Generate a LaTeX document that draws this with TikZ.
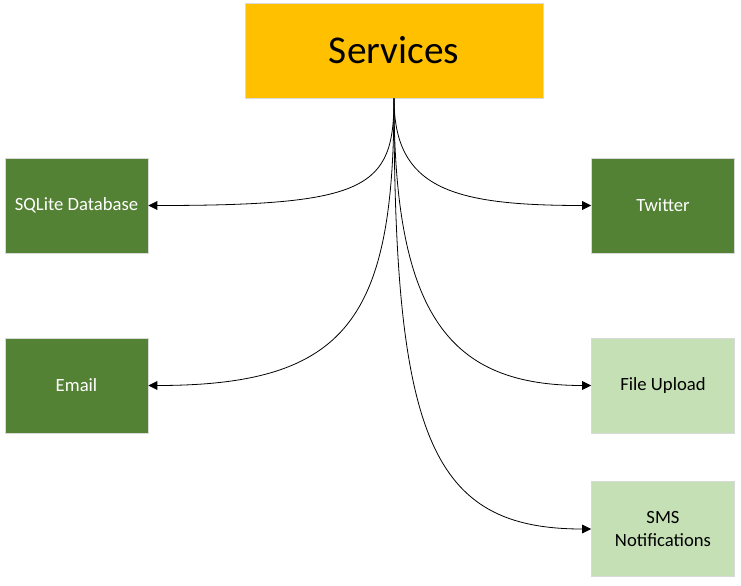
\documentclass[tikz,border=0pt]{standalone}
\usepackage{fontspec}
\setmainfont{Carlito}
\usetikzlibrary{arrows.meta}
\definecolor{svcyellow}{HTML}{FFC000}
\definecolor{darkleaf}{HTML}{548235}
\definecolor{lightleaf}{HTML}{C5E0B4}

\begin{document}
\begin{tikzpicture}[x=0.75pt,y=-0.75pt,
	box/.style={draw=gray!30,line width=0.4pt,minimum width=107.25pt,minimum height=71.25pt,inner sep=2pt,align=center,font=\fontsize{14}{17}\selectfont},
	darkbox/.style={box,fill=darkleaf,text=white},
	lightbox/.style={box,fill=lightleaf,text=black},
	link/.style={line width=0.6pt,-{Triangle[length=6.8pt,width=6.5pt]}}]
	\useasboundingbox (0,0) rectangle (741,585);

	\node[box,fill=svcyellow,minimum width=223.5pt,font=\fontsize{29.5}{35}\selectfont]	(services)	at (394,50.5)	{Services};
	\node[darkbox]		(sqlite)	at (76.5,205.5)		{SQLite Database};
	\node[darkbox]		(email)		at (76.5,385.5)		{Email};
	\node[darkbox]		(twitter)	at (663,205.5)		{Twitter};
	\node[lightbox]		(upload)	at (663,385.5)		{File Upload};
	\node[lightbox]		(sms)		at (663,529)		{SMS\\Notifications};

	\draw[link]	(services.south) .. controls +(0,90) and +(220,0) .. (sqlite.east);
	\draw[link]	(services.south) .. controls +(0,90) and +(-140,0) .. (twitter.west);
	\draw[link]	(services.south) .. controls +(0,220) and +(200,0) .. (email.east);
	\draw[link]	(services.south) .. controls +(0,220) and +(-140,0) .. (upload.west);
	\draw[link]	(services.south) .. controls +(0,340) and +(-160,0) .. (sms.west);
\end{tikzpicture}
\end{document}
